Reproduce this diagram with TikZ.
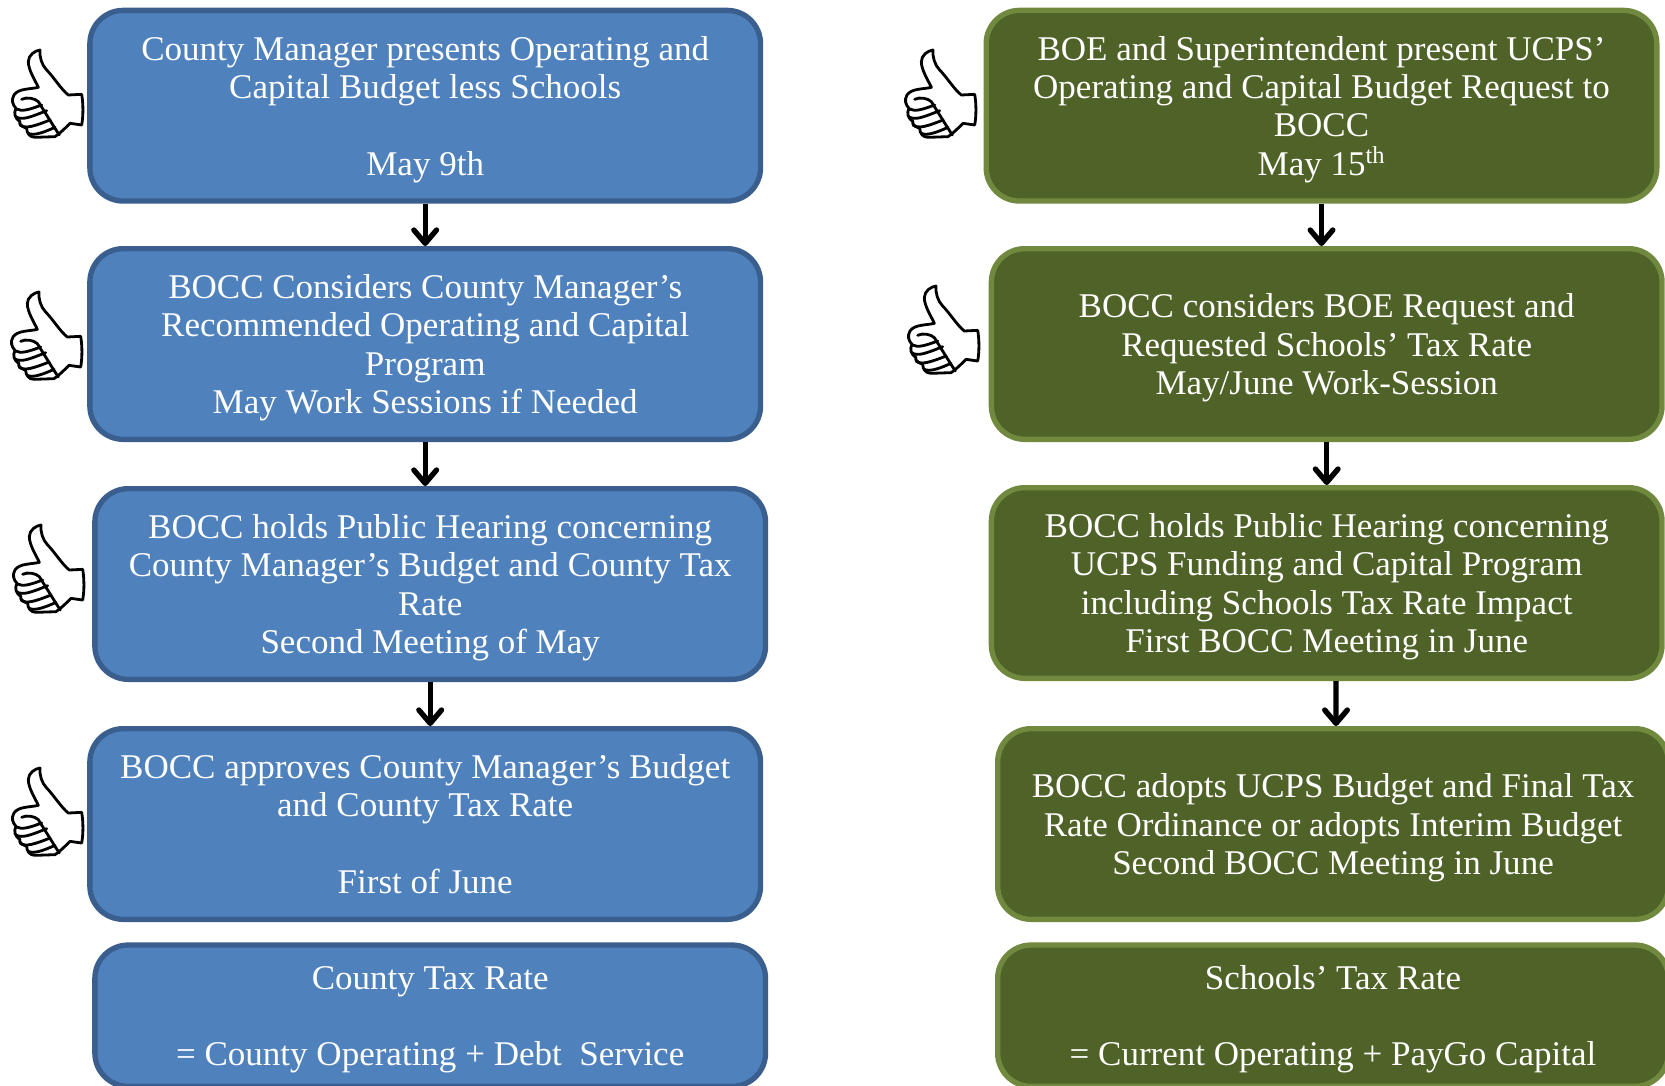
\documentclass[tikz,border=0pt]{standalone}
\usepackage{fontspec}
\setmainfont[FakeStretch=1.01]{Liberation Serif}
\usetikzlibrary{arrows.meta}
\definecolor{bluefill}{HTML}{4F81BD}
\definecolor{blueline}{HTML}{3A5F8E}
\definecolor{greenfill}{HTML}{4F6228}
\definecolor{greenline}{HTML}{71893F}
\tikzset{
 x=0.75pt,y=-0.75pt,
 boxbase/.style={rounded corners=25pt,line width=4pt,text=white,align=center,inner sep=0pt,minimum width=503pt,font=\fontsize{26}{28.7}\selectfont},
 tallbox/.style={minimum height=143pt},
 lowbox/.style={minimum height=106pt},
 bluebox/.style={boxbase,draw=blueline,fill=bluefill},
 greenbox/.style={boxbase,draw=greenline,fill=greenfill},
 flow/.style={-{Straight Barb[length=10pt,width=17pt,line width=4pt,round]},line width=3.8pt,black},
 thumbline/.style={draw=black,line width=2.1pt,line join=round,line cap=round},
}
\newcommand{\bt}[1]{\rule{0pt}{25pt}#1\rule[-7pt]{0pt}{7pt}}
\newcommand{\thumb}[3]{%
\begin{scope}[shift={(#1,#2)},x=0.25pt,y=-0.25pt]
\coordinate (#3) at (0,0);
\path[thumbline,fill=white] (120,150) .. controls (118,170) and (125,195) .. (140,210) .. controls (160,230) and (185,270) .. (205,285) -- (245,283) .. controls (250,310) and (250,350) .. (245,375) -- (210,370) .. controls (195,385) and (180,400) .. (165,410) -- (105,412) .. controls (90,412) and (80,400) .. (80,385) .. controls (65,380) and (55,370) .. (60,365) .. controls (45,355) and (40,340) .. (48,325) .. controls (38,315) and (33,300) .. (42,285) .. controls (55,265) and (90,268) .. (115,262) .. controls (105,240) and (85,210) .. (85,185) .. controls (85,165) and (105,152) .. (120,150) -- cycle;
\path[thumbline] (65,298) .. controls (80,290) and (105,295) .. (115,305) -- (165,385) -- (178,405);
\path[thumbline] (50,327) .. controls (65,335) and (85,330) .. (125,315);
\path[thumbline] (47,350) .. controls (65,362) and (90,352) .. (140,332);
\path[thumbline] (60,375) .. controls (75,388) and (105,378) .. (150,360);
\path[thumbline] (85,400) .. controls (100,408) and (130,398) .. (165,382);
\end{scope}}
\begin{document}
\begin{tikzpicture}
\useasboundingbox (0,0) rectangle (1665,1085);
% left column
\node[bluebox,tallbox] (l1) at (425.2,105.7) {\bt{County Manager presents Operating and\\Capital Budget less Schools\\[28.7pt]May 9th}};
\node[bluebox,tallbox] (l2) at (425.2,344) {\bt{BOCC Considers County Manager’s\\Recommended Operating and Capital\\Program\\May Work Sessions if Needed}};
\node[bluebox,tallbox] (l3) at (430.2,584) {\bt{BOCC holds Public Hearing concerning\\County Manager’s Budget and County Tax\\Rate\\Second Meeting of May}};
\node[bluebox,tallbox] (l4) at (425.2,824) {\bt{BOCC approves County Manager’s Budget\\and County Tax Rate\\[28.7pt]First of June}};
\node[bluebox,lowbox] (l5) at (430.2,1015.7) {\bt{County Tax Rate\\[28.7pt]= County Operating + Debt\ \ Service}};
% right column
\node[greenbox,tallbox] (r1) at (1321.5,105.7) {\bt{BOE and Superintendent present UCPS’\\Operating and Capital Budget Request to\\BOCC\\May 15\textsuperscript{th}}};
\node[greenbox,tallbox] (r2) at (1326.7,344) {\bt{BOCC considers BOE Request and\\Requested Schools’ Tax Rate\\May/June Work-Session}};
\node[greenbox,tallbox] (r3) at (1326.7,583) {\bt{BOCC holds Public Hearing concerning\\UCPS Funding and Capital Program\\including Schools Tax Rate Impact\\First BOCC Meeting in June}};
\node[greenbox,tallbox] (r4) at (1333,824) {\bt{BOCC adopts UCPS Budget and Final Tax\\Rate Ordinance or adopts Interim Budget\\Second BOCC Meeting in June}};
\node[greenbox,lowbox] (r5) at (1333,1015.7) {\bt{Schools’ Tax Rate\\[28.7pt]= Current Operating + PayGo Capital}};
% arrows
\draw[flow] (l1.south) -- (l1.south |- l2.north);
\draw[flow] (l2.south) -- (l2.south |- l3.north);
\draw[flow] (l3.south) -- (l3.south |- l4.north);
\draw[flow] (r1.south) -- (r1.south |- r2.north);
\draw[flow] (r2.south) -- (r2.south |- r3.north);
\draw[flow] ([xshift=6.98pt]r3.south) -- ([xshift=2.25pt]r4.north);
% thumbs
\thumb{0}{0}{t1}
\thumb{-1}{242}{t2}
\thumb{1}{475}{t3}
\thumb{0}{718}{t4}
\thumb{893}{0}{t5}
\thumb{896}{236}{t6}
\end{tikzpicture}
\end{document}
